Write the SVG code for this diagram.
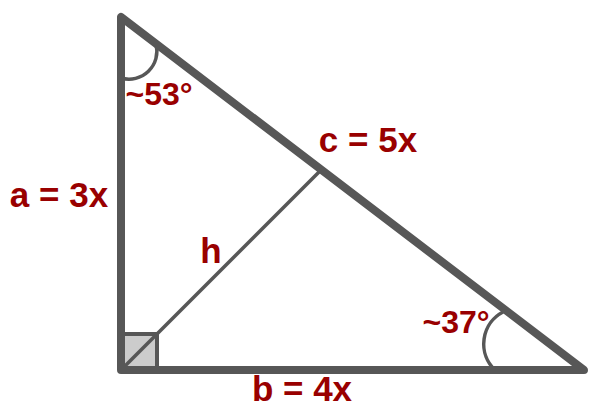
<svg xmlns="http://www.w3.org/2000/svg" width="602" height="415" viewBox="0 0 602 415">
  <style>
    .edge { fill: none; stroke: #575757; stroke-linejoin: round; stroke-linecap: round; }
    .side { stroke-width: 8; }
    .thin { stroke-width: 3.5; stroke-linecap: butt; }
    .lbl { font-family: "Liberation Sans", Arial, sans-serif; font-weight: bold; fill: #990000; text-anchor: middle; }
    .big { font-size: 35px; }
    .ang { font-size: 32px; }
  </style>
  <rect width="602" height="415" fill="#ffffff"/>
  <g id="right-angle">
    <rect x="121" y="334" width="36" height="36" fill="#cccccc" stroke="#575757" stroke-width="4"/>
  </g>
  <g id="connectors">
    <line id="altitude" class="edge thin" x1="121" y1="370" x2="321" y2="170"/>
    <path id="arc-top" class="edge thin" d="M121,78 A28,28 0 0,0 156,44"/>
    <path id="arc-right" class="edge thin" d="M503,312 A36,36 0 0,0 495,370"/>
  </g>
  <g id="triangle">
    <path class="edge side" d="M121,17 L121,370 L584,370 Z"/>
  </g>
  <g id="labels">
    <text id="label-a" class="lbl big" x="59" y="207">a = 3x</text>
    <text id="label-b" class="lbl big" x="302" y="401">b = 4x</text>
    <text id="label-c" class="lbl big" x="368" y="152">c = 5x</text>
    <text id="label-h" class="lbl big" x="211" y="263">h</text>
    <text id="label-53" class="lbl ang" x="159" y="105">~53°</text>
    <text id="label-37" class="lbl ang" x="456" y="333">~37°</text>
  </g>
</svg>
